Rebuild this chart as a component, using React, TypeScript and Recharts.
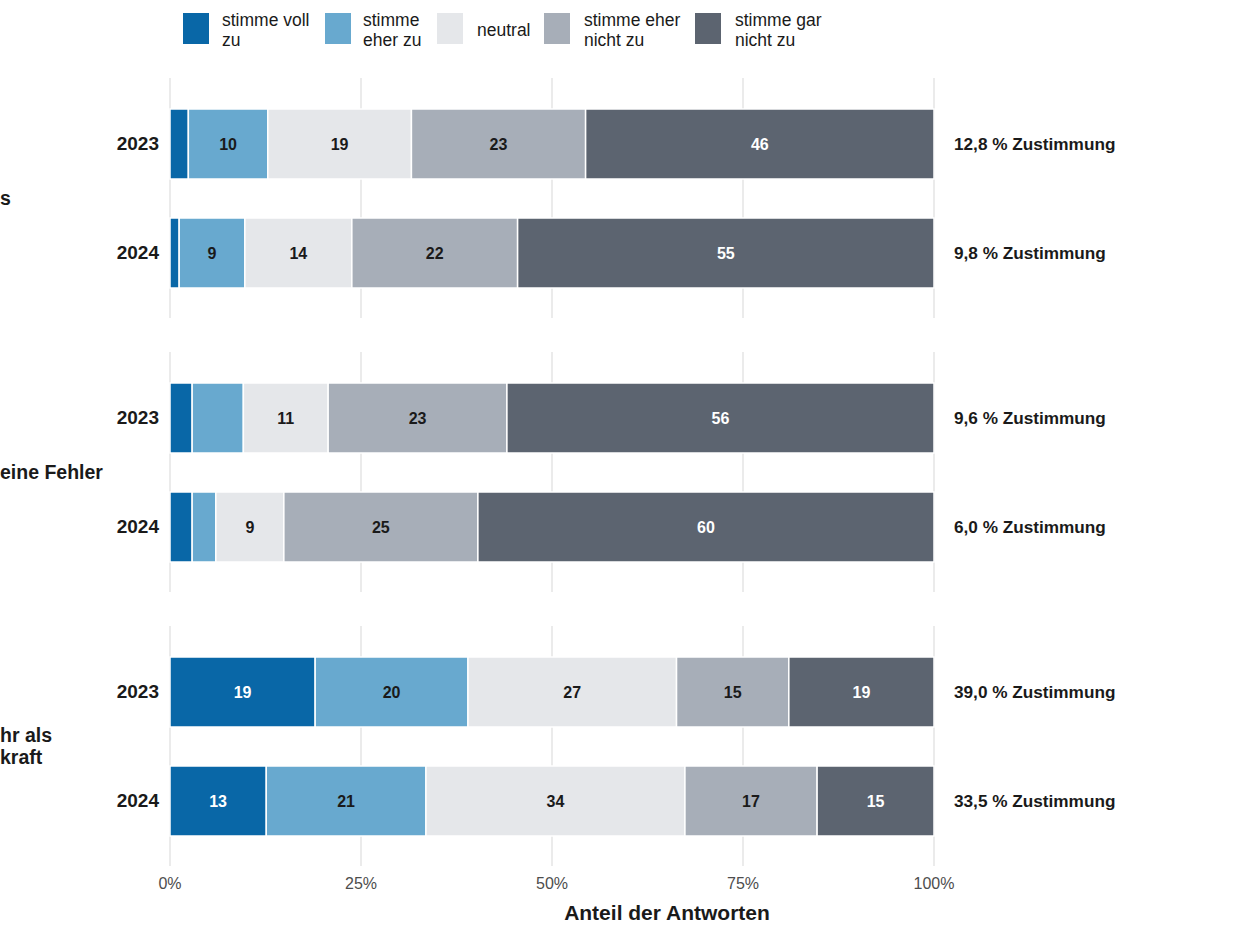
import React from 'react';
import { BarChart, Bar, XAxis, YAxis, CartesianGrid, LabelList } from 'recharts';

const categories = ['stimme voll zu', 'stimme eher zu', 'neutral', 'stimme eher nicht zu', 'stimme gar nicht zu'];
const legendLines = [['stimme voll', 'zu'], ['stimme', 'eher zu'], ['neutral'], ['stimme eher', 'nicht zu'], ['stimme gar', 'nicht zu']];
const years = ['2023', '2024'];
const facetLabels = [['s'], ['eine Fehler'], ['hr als', 'kraft']];
const panel1Values = [[2.4, 10.4, 18.8, 22.8, 45.6], [1.2, 8.6, 14.0, 21.7, 54.5]];
const panel2Values = [[2.9, 6.7, 11.1, 23.4, 55.9], [2.9, 3.1, 8.9, 25.4, 59.7]];
const panel3Values = [[19.0, 20.0, 27.3, 14.7, 19.0], [12.6, 20.9, 33.9, 17.3, 15.3]];
const agreementLabels = [
  ['12,8 % Zustimmung', '9,8 % Zustimmung'],
  ['9,6 % Zustimmung', '6,0 % Zustimmung'],
  ['39,0 % Zustimmung', '33,5 % Zustimmung'],
];
const xTicks = [0, 25, 50, 75, 100];
const xTitle = 'Anteil der Antworten';

const colors = ['#0967a7', '#68a9cf', '#e5e7ea', '#a7aeb8', '#5c6470'];
const FONT = '"Liberation Sans", Arial, Helvetica, sans-serif';

const makeLabel = (k: number) => (props: any) => {
  const { x, y, width, height, value } = props;
  if (value == null || Number(value) < 7.5) return null;
  return (
    <text
      x={Number(x) + Number(width) / 2}
      y={Number(y) + Number(height) / 2}
      dy="0.36em"
      textAnchor="middle"
      fontSize={16}
      fontWeight={700}
      fontFamily={FONT}
      fill={k === 0 || k === 4 ? '#ffffff' : '#1a1a1a'}
    >
      {Math.round(Number(value))}
    </text>
  );
};

function Panel({ values, labels, top, showAxis }: { values: number[][]; labels: string[]; top: number; showAxis: boolean }) {
  const data = years.map((yr, i) => {
    const row: any = { year: yr, agree: labels[i] };
    values[i].forEach((v, k) => (row['s' + k] = v));
    return row;
  });
  const RightTick = (props: any) => {
    const { x, y, index } = props;
    return (
      <text x={Number(x) + 12} y={y} dy="0.36em" textAnchor="start" fontSize={17.2} fontWeight={700} fontFamily={FONT} fill="#1a1a1a">
        {data[index] ? data[index].agree : ''}
      </text>
    );
  };
  const h = 240 + (showAxis ? 40 : 0);
  return (
    <div style={{ position: 'absolute', left: 0, top }}>
      <BarChart width={1260} height={h} data={data} layout="vertical" margin={{ top: 0, right: 126, bottom: 0, left: 110 }} barCategoryGap={0}>
        <CartesianGrid horizontal={false} stroke="#e4e4e4" strokeWidth={1.5} />
        <XAxis
          type="number"
          domain={[0, 100]}
          ticks={xTicks}
          hide={!showAxis}
          height={40}
          axisLine={false}
          tickLine={false}
          tickMargin={6}
          tick={{ fill: '#4d4d4d', fontSize: 16, fontFamily: FONT }}
          tickFormatter={(v: number) => v + '%'}
        />
        <YAxis
          type="category"
          dataKey="year"
          width={60}
          axisLine={false}
          tickLine={false}
          tickMargin={5}
          padding={{ top: 11, bottom: 11 }}
          tick={{ fill: '#1a1a1a', fontSize: 19, fontWeight: 700, fontFamily: FONT }}
        />
        <YAxis
          yAxisId="r"
          orientation="right"
          type="category"
          dataKey="year"
          width={200}
          axisLine={false}
          tickLine={false}
          padding={{ top: 11, bottom: 11 }}
          tick={<RightTick />}
        />
        {categories.map((c, k) => (
          <Bar key={c} name={c} dataKey={'s' + k} stackId="a" fill={colors[k]} stroke="#ffffff" strokeWidth={1.5} barSize={70} isAnimationActive={false}>
            <LabelList dataKey={'s' + k} content={makeLabel(k)} />
          </Bar>
        ))}
      </BarChart>
    </div>
  );
}

const legendKeyLeft = [183, 325, 437, 544, 695];
const legendTextLeft = [222, 363, 477, 584, 735];
const panelTops = [78, 352, 626];
const facetCenters = [198, 472, 746];

export default function App() {
  const panels = [panel1Values, panel2Values, panel3Values];
  return (
    <div style={{ position: 'absolute', left: 0, top: 0, width: 1260, height: 945, background: '#fff', overflow: 'hidden', fontFamily: FONT }}>
      {categories.map((c, i) => (
        <React.Fragment key={c}>
          <div style={{ position: 'absolute', left: legendKeyLeft[i], top: 13, width: 26, height: 31, background: colors[i] }} />
          <div
            style={{
              position: 'absolute',
              left: legendTextLeft[i],
              top: 30 - (legendLines[i].length * 20) / 2,
              fontSize: 17.5,
              lineHeight: '20px',
              color: '#1a1a1a',
              whiteSpace: 'nowrap',
            }}
          >
            {legendLines[i].map((l) => (
              <div key={l}>{l}</div>
            ))}
          </div>
        </React.Fragment>
      ))}
      {panels.map((vals, p) => (
        <Panel key={p} values={vals} labels={agreementLabels[p]} top={panelTops[p]} showAxis={p === 2} />
      ))}
      {facetLabels.map((lines, p) => (
        <div
          key={p}
          style={{
            position: 'absolute',
            left: 0,
            top: facetCenters[p] - (lines.length * 22) / 2,
            fontSize: 19.5,
            lineHeight: '22px',
            fontWeight: 700,
            color: '#1a1a1a',
            whiteSpace: 'nowrap',
          }}
        >
          {lines.map((l) => (
            <div key={l}>{l}</div>
          ))}
        </div>
      ))}
      <div style={{ position: 'absolute', left: 467, width: 400, top: 900, textAlign: 'center', fontSize: 21, fontWeight: 700, color: '#1a1a1a', lineHeight: '26px' }}>
        {xTitle}
      </div>
    </div>
  );
}
